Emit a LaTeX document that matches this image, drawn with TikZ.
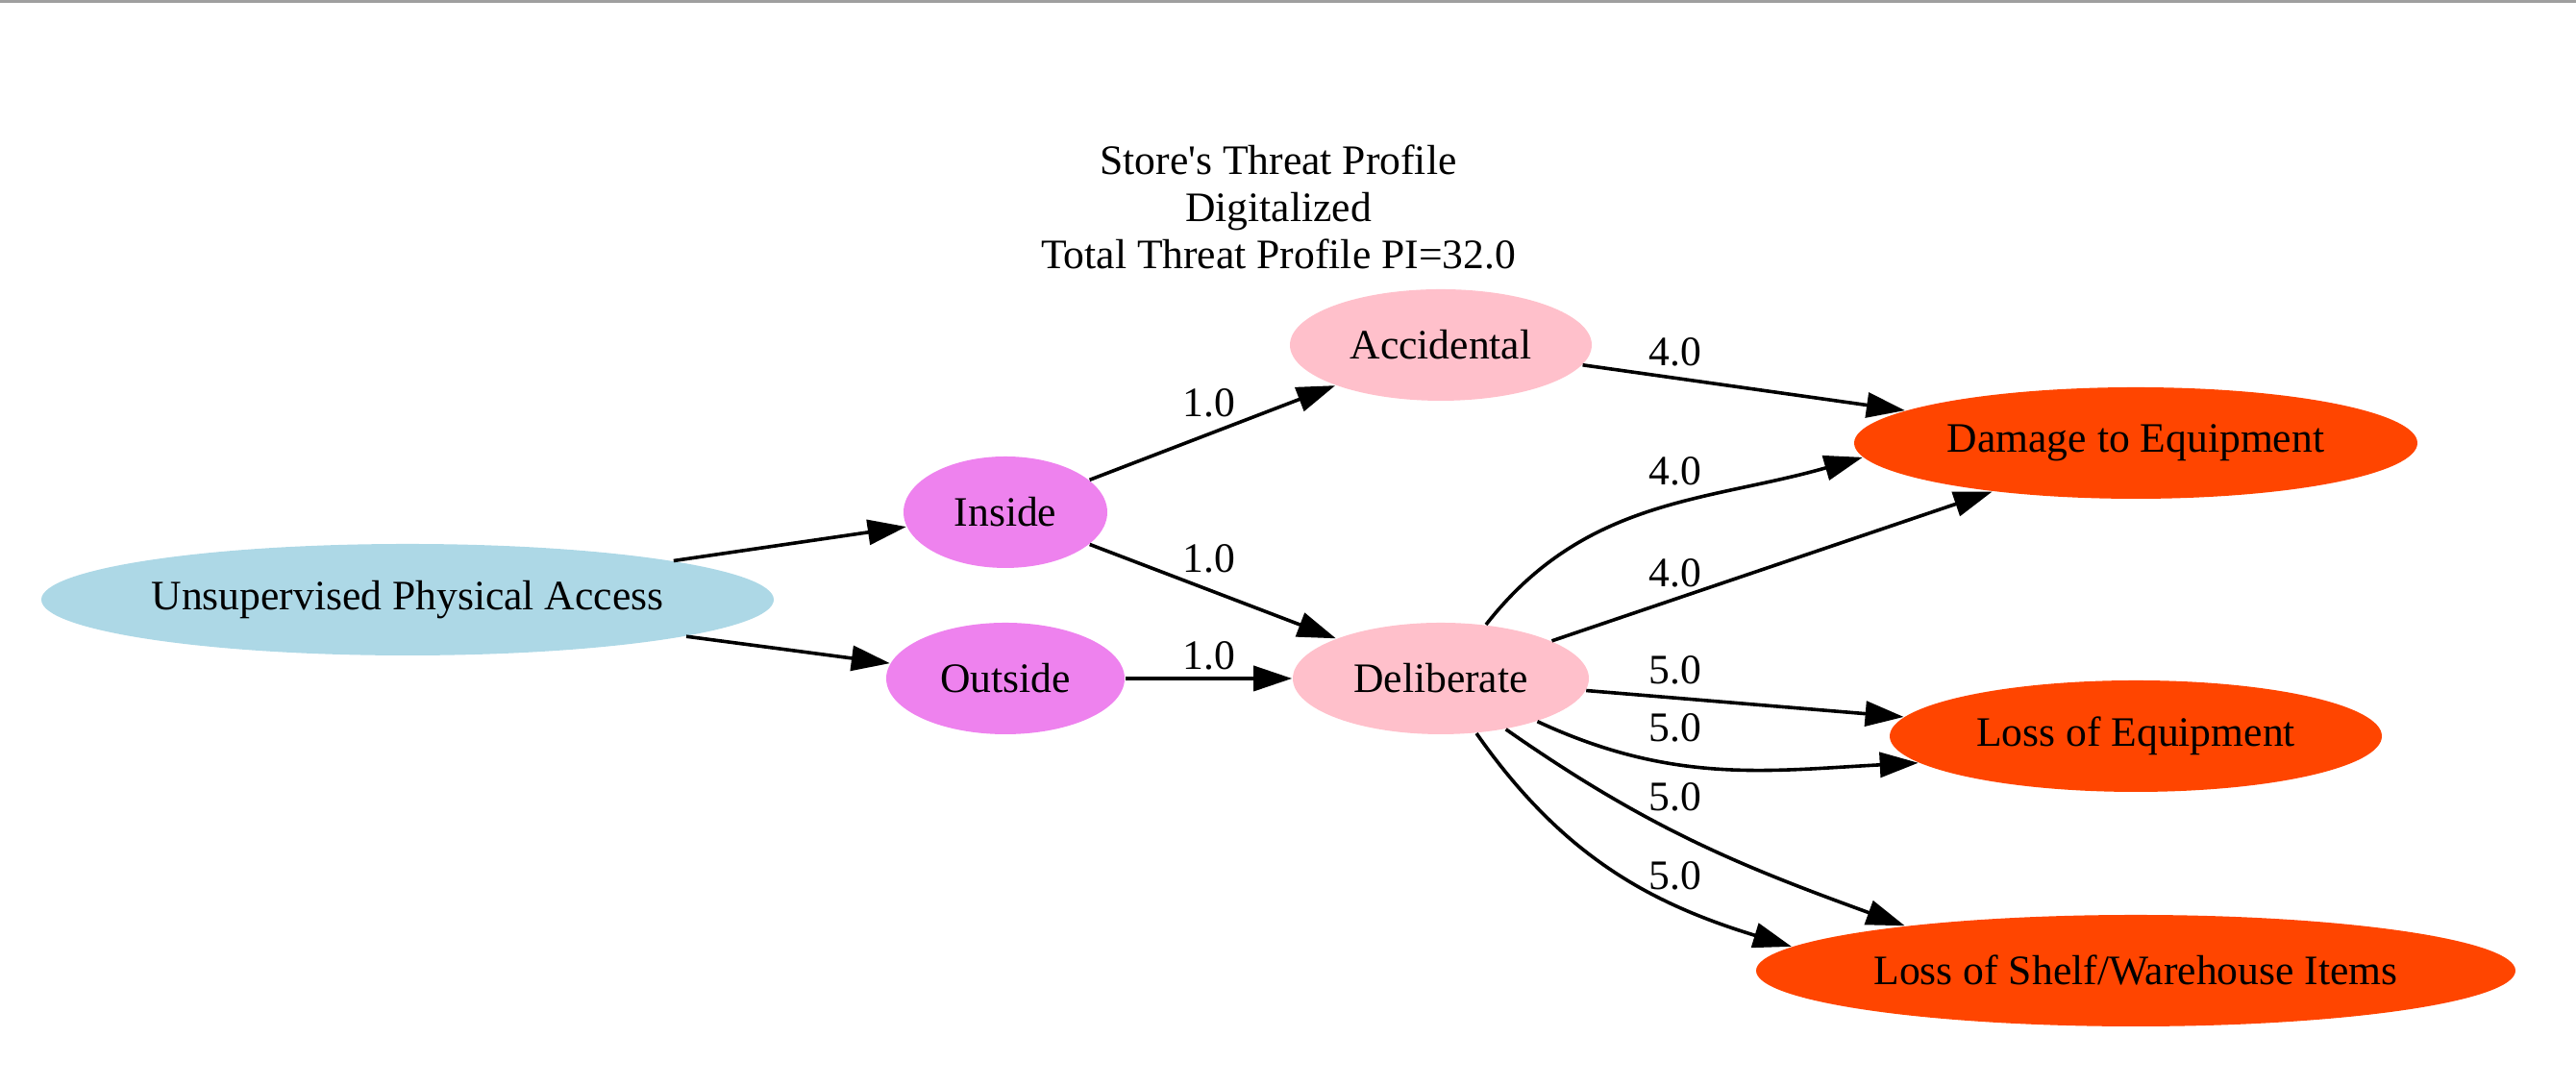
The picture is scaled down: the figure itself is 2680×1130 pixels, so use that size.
\documentclass[tikz,border=0pt]{standalone}
\usepackage{fontspec}
\newfontfamily\gvfont{Liberation Serif}
\usetikzlibrary{arrows.meta,shapes.geometric}
\definecolor{accessblue}{HTML}{ADD8E6}
\definecolor{originviolet}{HTML}{EE82EE}
\definecolor{motivepink}{HTML}{FFC0CB}
\definecolor{impactred}{HTML}{FF4500}

\begin{document}
\begin{tikzpicture}[
  x=0.25pt, y=0.25pt,
  every node/.style = {font=\gvfont\fontsize{10.9}{12.25}\selectfont},
  threat/.style = {ellipse, inner sep=0pt, minimum height=29pt},
  access/.style = {threat, fill=accessblue},
  origin/.style = {threat, fill=originviolet},
  motive/.style = {threat, fill=motivepink},
  impact/.style = {threat, fill=impactred},
  link/.style = {-{Triangle[length=10pt,width=6.5pt]}, line width=0.9pt},
  weight/.style = {inner sep=0pt}
]
  \useasboundingbox (0,0) rectangle (2680,1130);
  \draw[gray!75, line width=1pt] (0,1128.5) -- (2680,1128.5);

  \node[align=center] (title) at (1330,915)
    {Store's Threat Profile\\Digitalized\\Total Threat Profile PI=32.0};

  \node[access, minimum width=190.5pt] (unsup) at (424,506) {Unsupervised Physical Access};
  \node[origin, minimum width=53pt] (inside) at (1046,597) {Inside};
  \node[origin, minimum width=62pt] (outside) at (1046,424) {Outside};
  \node[motive, minimum width=78.5pt] (acc) at (1499,771) {Accidental};
  \node[motive, minimum width=77pt] (del) at (1499,424) {Deliberate};
  \node[impact, minimum width=146.5pt] (dam) at (2222,669) {Damage to Equipment};
  \node[impact, minimum width=128pt] (loseq) at (2222,364) {Loss of Equipment};
  \node[impact, minimum width=197.5pt] (shelf) at (2222,120) {Loss of Shelf/Warehouse Items};

  \draw[link] (unsup) -- (inside);
  \draw[link] (unsup) -- (outside);
  \draw[link] (inside) -- (acc);
  \draw[link] (inside) -- (del);
  \draw[link] (outside) -- (del);
  \draw[link] (acc) -- (dam);
  \draw[link] (del.50) to[out=52,in=196] (dam.183);
  \draw[link] (del) -- (dam);
  \draw[link] (del) -- (loseq);
  \draw[link] (del.-24) to[out=-25,in=183] (loseq.187);
  \draw[link] (del.-38) to[out=-35,in=160] (shelf.169);
  \draw[link] (del.-57) to[out=-55,in=163] (shelf.176);

  \node[weight] (w1) at (1258,711) {1.0};
  \node[weight] (w2) at (1258,549) {1.0};
  \node[weight] (w3) at (1258,448) {1.0};
  \node[weight] (w4) at (1743,764) {4.0};
  \node[weight] (w5) at (1743,640) {4.0};
  \node[weight] (w6) at (1743,534) {4.0};
  \node[weight] (w7) at (1743,433) {5.0};
  \node[weight] (w8) at (1743,373) {5.0};
  \node[weight] (w9) at (1743,301) {5.0};
  \node[weight] (w10) at (1743,219) {5.0};
\end{tikzpicture}
\end{document}
